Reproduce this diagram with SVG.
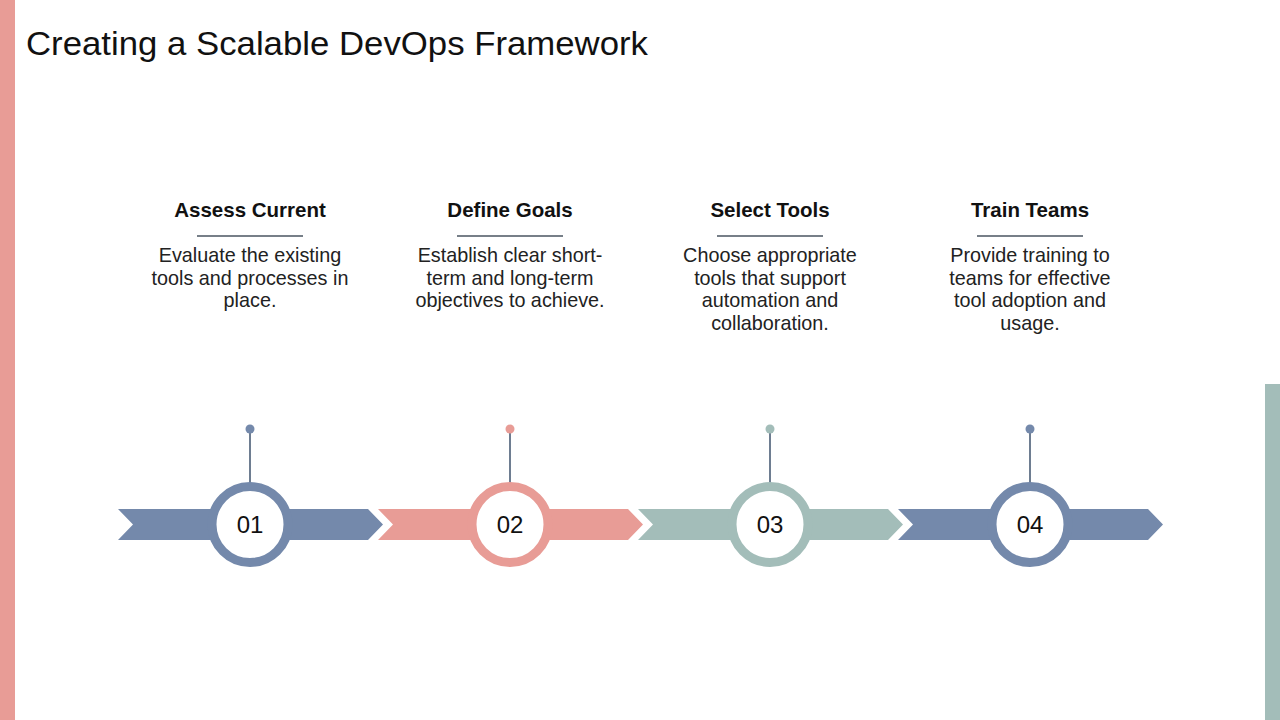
<svg xmlns="http://www.w3.org/2000/svg" width="1280" height="720" viewBox="0 0 1280 720">
<style>
.title{font-family:"Liberation Sans",Arial,sans-serif;font-size:33px;fill:#111}
.head{font-family:"Liberation Sans",Arial,sans-serif;font-size:20.5px;font-weight:bold;fill:#111;text-anchor:middle}
.body{font-family:"Liberation Sans",Arial,sans-serif;font-size:19.8px;fill:#222;text-anchor:middle}
.num{font-family:"Liberation Sans",Arial,sans-serif;font-size:24px;fill:#111;text-anchor:middle}
.ul{stroke:#4A5560;stroke-width:1.5}
.stem{stroke:#6E7D91;stroke-width:2}
.blue{fill:#7489AB}
.pink{fill:#E89C96}
.teal{fill:#A3BDB9}
</style>
<rect x="0" y="0" width="15" height="720" fill="#E89C96"/>
<rect x="1265" y="384" width="15" height="336" fill="#A3BDB9"/>
<text class="title" x="26" y="55" textLength="622" lengthAdjust="spacingAndGlyphs">Creating a Scalable DevOps Framework</text>

<g id="connectors">
<path class="blue" d="M118 509 L368 509 L383 524.5 L368 540 L118 540 L133 524.5 Z"/>
<path class="pink" d="M378 509 L628 509 L643 524.5 L628 540 L378 540 L393 524.5 Z"/>
<path class="teal" d="M638 509 L888 509 L903 524.5 L888 540 L638 540 L653 524.5 Z"/>
<path class="blue" d="M898 509 L1148 509 L1163 524.5 L1148 540 L898 540 L913 524.5 Z"/>
</g>

<g id="step1">
<line class="stem" x1="250" y1="429" x2="250" y2="483"/>
<circle class="blue" cx="250" cy="429" r="4.5"/>
<circle cx="250" cy="524.5" r="38" fill="#fff" stroke="#7489AB" stroke-width="9"/>
<text class="num" x="250" y="533">01</text>
<text class="head" x="250" y="217">Assess Current</text>
<line class="ul" x1="197" y1="236" x2="303" y2="236"/>
<text class="body" x="250" y="262">Evaluate the existing</text>
<text class="body" x="250" y="284.5">tools and processes in</text>
<text class="body" x="250" y="307">place.</text>
</g>

<g id="step2">
<line class="stem" x1="510" y1="429" x2="510" y2="483"/>
<circle class="pink" cx="510" cy="429" r="4.5"/>
<circle cx="510" cy="524.5" r="38" fill="#fff" stroke="#E89C96" stroke-width="9"/>
<text class="num" x="510" y="533">02</text>
<text class="head" x="510" y="217">Define Goals</text>
<line class="ul" x1="457" y1="236" x2="563" y2="236"/>
<text class="body" x="510" y="262">Establish clear short-</text>
<text class="body" x="510" y="284.5">term and long-term</text>
<text class="body" x="510" y="307">objectives to achieve.</text>
</g>

<g id="step3">
<line class="stem" x1="770" y1="429" x2="770" y2="483"/>
<circle class="teal" cx="770" cy="429" r="4.5"/>
<circle cx="770" cy="524.5" r="38" fill="#fff" stroke="#A3BDB9" stroke-width="9"/>
<text class="num" x="770" y="533">03</text>
<text class="head" x="770" y="217">Select Tools</text>
<line class="ul" x1="717" y1="236" x2="823" y2="236"/>
<text class="body" x="770" y="262">Choose appropriate</text>
<text class="body" x="770" y="284.5">tools that support</text>
<text class="body" x="770" y="307">automation and</text>
<text class="body" x="770" y="329.5">collaboration.</text>
</g>

<g id="step4">
<line class="stem" x1="1030" y1="429" x2="1030" y2="483"/>
<circle class="blue" cx="1030" cy="429" r="4.5"/>
<circle cx="1030" cy="524.5" r="38" fill="#fff" stroke="#7489AB" stroke-width="9"/>
<text class="num" x="1030" y="533">04</text>
<text class="head" x="1030" y="217">Train Teams</text>
<line class="ul" x1="977" y1="236" x2="1083" y2="236"/>
<text class="body" x="1030" y="262">Provide training to</text>
<text class="body" x="1030" y="284.5">teams for effective</text>
<text class="body" x="1030" y="307">tool adoption and</text>
<text class="body" x="1030" y="329.5">usage.</text>
</g>
</svg>
